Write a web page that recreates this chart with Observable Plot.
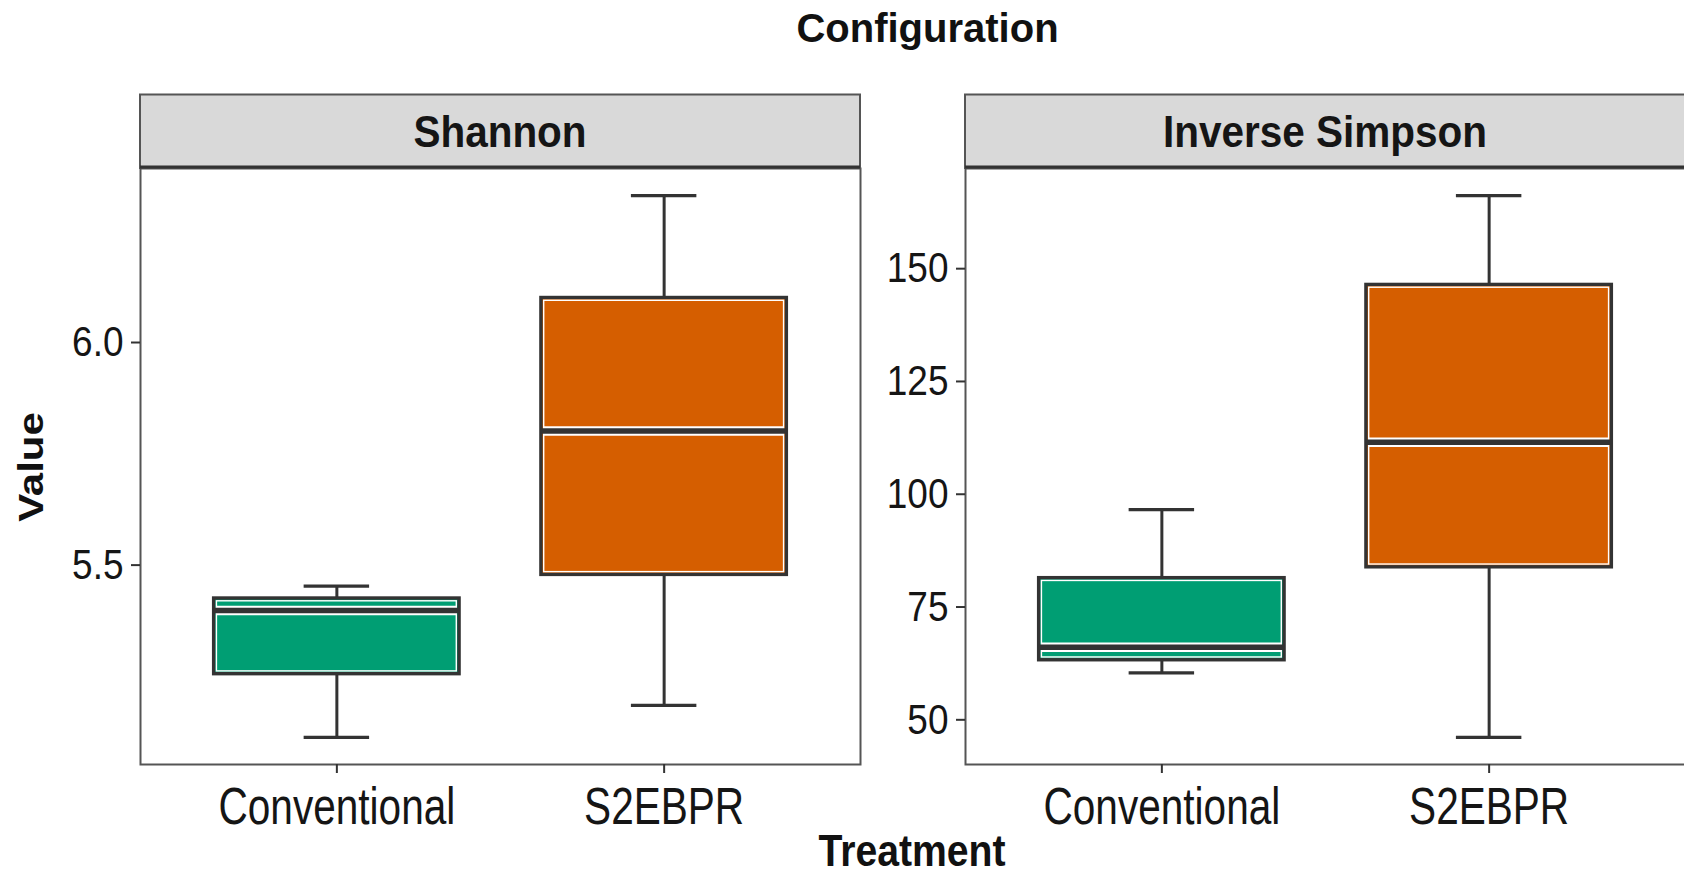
<!DOCTYPE html>
<html><head><meta charset="utf-8">
<script src="https://cdn.jsdelivr.net/npm/d3@7"></script>
<script src="https://cdn.jsdelivr.net/npm/@observablehq/plot@0.6"></script>
<style>
html,body{margin:0;padding:0;background:#fff;overflow:hidden;}
#root{position:relative;width:1684px;height:875px;font-family:"Liberation Sans",Arial,sans-serif;}
#root svg{position:absolute;}
</style></head><body><div id="root"></div>
<script>
// ---- data ----
const categories = ["Conventional", "S2EBPR"];
const fills = ["#009E73", "#D55E00"];
const facetTitles = ["Shannon", "Inverse Simpson"];
const chartTitle = "Configuration";
const xLabel = "Treatment";
const yLabel = "Value";

const shannonMin    = [5.113, 5.185];
const shannonQ1     = [5.255, 5.478];
const shannonMedian = [5.398, 5.801];
const shannonQ3     = [5.425, 6.100];
const shannonMax    = [5.453, 6.330];
const shannonTicks  = [5.5, 6.0];

const invSimpsonMin    = [60.4, 46.1];
const invSimpsonQ1     = [63.2, 83.8];
const invSimpsonMedian = [66.1, 111.5];
const invSimpsonQ3     = [81.4, 146.4];
const invSimpsonMax    = [96.6, 166.2];
const invSimpsonTicks  = [50, 75, 100, 125, 150];

function rowsOf(mn, q1, md, q3, mx) {
  return categories.map((c, i) => ({cat: c, pos: i + 1, min: mn[i], q1: q1[i], median: md[i], q3: q3[i], max: mx[i]}));
}
const shannonRows = rowsOf(shannonMin, shannonQ1, shannonMedian, shannonQ3, shannonMax);
const invSimpsonRows = rowsOf(invSimpsonMin, invSimpsonQ1, invSimpsonMedian, invSimpsonQ3, invSimpsonMax);

const FONT = "'Liberation Sans', Arial, Helvetica, sans-serif";
const DARK = "#333333";

function panel(rows, ticks, fmt) {
  const lo = d3.min(rows, d => d.min), hi = d3.max(rows, d => d.max), pad = (hi - lo) * 0.05;
  const half = 0.375, cap = 0.1;
  return Plot.plot({
    width: 862, height: 668,
    marginLeft: 140, marginRight: 2, marginTop: 2, marginBottom: 70,
    style: {fontFamily: FONT, color: "#151515", background: "transparent", overflow: "visible"},
    x: {type: "linear", domain: [0.4, 2.6], axis: null},
    y: {domain: [lo - pad, hi + pad], axis: null},
    color: {domain: categories, range: fills},
    marks: [
      Plot.ruleX(rows, {x: "pos", y1: "q3", y2: "max", stroke: DARK, strokeWidth: 3}),
      Plot.ruleX(rows, {x: "pos", y1: "q1", y2: "min", stroke: DARK, strokeWidth: 3}),
      Plot.ruleY(rows, {x1: d => d.pos - cap, x2: d => d.pos + cap, y: "max", stroke: DARK, strokeWidth: 3.2}),
      Plot.ruleY(rows, {x1: d => d.pos - cap, x2: d => d.pos + cap, y: "min", stroke: DARK, strokeWidth: 3.2}),
      Plot.rect(rows, {x1: d => d.pos - half, x2: d => d.pos + half, y1: "q1", y2: "q3", fill: "cat", stroke: DARK, strokeWidth: 3.4}),
      Plot.rect(rows, {x1: d => d.pos - half, x2: d => d.pos + half, y1: "q1", y2: "q3", fill: "none", stroke: "white", strokeWidth: 1.4, inset: 2.8}),
      Plot.ruleY(rows, {x1: d => d.pos - half, x2: d => d.pos + half, y: "median", stroke: "white", strokeWidth: 9.5, insetLeft: 2.8, insetRight: 2.8}),
      Plot.ruleY(rows, {x1: d => d.pos - half, x2: d => d.pos + half, y: "median", stroke: DARK, strokeWidth: 5.5}),
      Plot.frame({stroke: "#555", strokeWidth: 2}),
      Plot.axisY(ticks, {tickSize: 9, tickPadding: 8, fontSize: 43, tickFormat: fmt, label: null, strokeWidth: 2, stroke: DARK}),
      Plot.axisX([1, 2], {tickSize: 9, tickPadding: 14, fontSize: 52, tickFormat: i => categories[i - 1], label: null, strokeWidth: 2, stroke: DARK})
    ]
  });
}

const root = document.getElementById("root");
const left = panel(shannonRows, shannonTicks, d3.format(".1f"));
const right = panel(invSimpsonRows, invSimpsonTicks, d3.format("d"));
left.style.left = "0px"; left.style.top = "166px";
right.style.left = "825px"; right.style.top = "166px";
root.appendChild(left);
root.appendChild(right);

function squeeze(svg, sel, k) {
  svg.querySelectorAll(sel).forEach(t => {
    const w = t.getComputedTextLength();
    t.setAttribute("textLength", w * k);
    t.setAttribute("lengthAdjust", "spacingAndGlyphs");
  });
}
for (const s of [left, right]) {
  squeeze(s, 'g[aria-label="x-axis tick label"] text', 0.78);
  squeeze(s, 'g[aria-label="y-axis tick label"] text', 0.86);
}

// overlay: title, strips, axis titles
const ov = d3.select(root).append("svg")
  .attr("width", 1684).attr("height", 875)
  .style("left", "0px").style("top", "0px")
  .style("pointer-events", "none")
  .style("font-family", FONT);

const strips = [{x0: 140, x1: 860, cx: 500}, {x0: 965, x1: 1685, cx: 1325}];
strips.forEach((s, i) => {
  ov.append("rect").attr("x", s.x0).attr("y", 94.5).attr("width", s.x1 - s.x0).attr("height", 73.5)
    .attr("fill", "#D9D9D9").attr("stroke", "#555").attr("stroke-width", 2);
  ov.append("line").attr("x1", s.x0).attr("x2", s.x1).attr("y1", 167).attr("y2", 167)
    .attr("stroke", DARK).attr("stroke-width", 3.2);
  ov.append("text").attr("transform", `translate(${s.cx},147) scale(0.9,1)`)
    .attr("text-anchor", "middle").attr("font-weight", "bold").attr("font-size", 45)
    .attr("fill", "#151515").text(facetTitles[i]);
});

ov.append("text").attr("x", 927.5).attr("y", 42).attr("text-anchor", "middle")
  .attr("font-weight", "bold").attr("font-size", 40).attr("fill", "#111").text(chartTitle);

ov.append("text").attr("transform", "translate(912,866) scale(0.89,1)").attr("text-anchor", "middle")
  .attr("font-weight", "bold").attr("font-size", 44).attr("fill", "#111").text(xLabel);

ov.append("text").attr("transform", "translate(43,467) scale(0.83,1) rotate(-90)").attr("text-anchor", "middle")
  .attr("font-weight", "bold").attr("font-size", 42).attr("fill", "#111").text(yLabel);
</script>
</body></html>
